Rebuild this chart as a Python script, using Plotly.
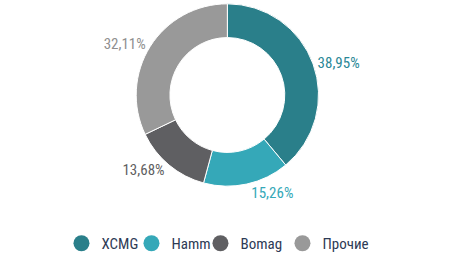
import plotly.graph_objects as go

labels = ["XCMG", "Hamm", "Bomag", "Прочие"]
values = [38.95, 15.26, 13.68, 32.11]
text_labels = ["38,95%", "15,26%", "13,68%", "32,11%"]
colors = ["#2a7f8a", "#35a8b8", "#5f5f62", "#999999"]
label_colors = ["#2a8796", "#35a8b8", "#5f5f62", "#8f8f8f"]
legend_widths = [25, 24, 37, 50]

FONT = "Liberation Sans Narrow, Roboto Condensed, DejaVu Sans Condensed, sans-serif"

fig = go.Figure()
fig.add_trace(go.Pie(
    labels=labels,
    values=values,
    text=text_labels,
    textinfo="text",
    textposition="outside",
    outsidetextfont=dict(family=FONT, size=15, color=label_colors),
    hole=0.63,
    sort=False,
    direction="clockwise",
    rotation=0,
    marker=dict(colors=colors, line=dict(color="white", width=1)),
    domain=dict(x=[0.29, 0.69], y=[0.27, 0.985]),
    showlegend=False,
    hoverinfo="label+text",
))

# legend entries with round markers
for name, col, lw in zip(labels, colors, legend_widths):
    fig.add_trace(go.Scatter(
        x=[None], y=[None], mode="markers", name=name,
        marker=dict(symbol="circle", size=16, color=col),
        showlegend=True, legendwidth=lw,
    ))

fig.update_layout(
    width=464, height=260,
    margin=dict(l=0, r=0, t=0, b=0),
    paper_bgcolor="white",
    plot_bgcolor="white",
    font=dict(family=FONT, size=15, color="#2d3a55"),
    xaxis=dict(visible=False),
    yaxis=dict(visible=False),
    legend=dict(orientation="h", x=0.473, xanchor="center", y=-0.02, yanchor="bottom",
                font=dict(family=FONT, size=15, color="#2d3a55"), itemwidth=30),
)

fig.write_html("out.html")
